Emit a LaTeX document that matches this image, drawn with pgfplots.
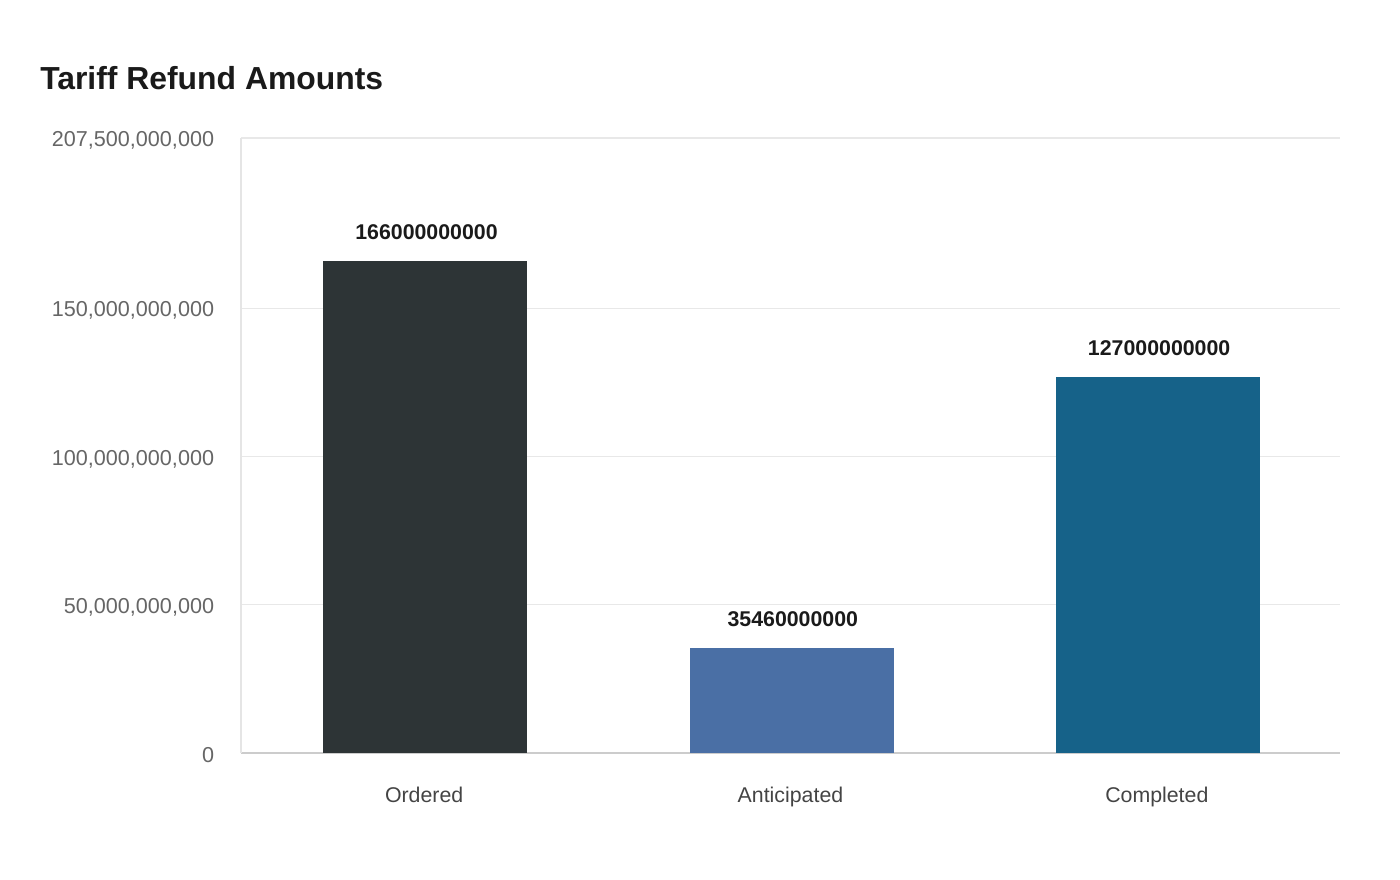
\documentclass[border=0pt]{standalone}
\usepackage{fontspec}
\setmainfont{Liberation Sans}
\usepackage{pgfplots}
\pgfplotsset{compat=1.18}
\definecolor{cOrd}{HTML}{2D3436}
\definecolor{cAnt}{HTML}{4A6FA5}
\definecolor{cCom}{HTML}{166289}
\definecolor{gridc}{HTML}{E8E8E8}
\definecolor{ticklab}{HTML}{666666}
\definecolor{xlab}{HTML}{444444}
\definecolor{titlec}{HTML}{1A1A1A}
\begin{document}
\begin{tikzpicture}
\useasboundingbox (-180.75pt,-95.25pt) rectangle (869.25pt,564.75pt);
\node[anchor=base west, inner sep=0pt, text=titlec, font=\fontsize{23.9}{28}\selectfont\bfseries] at (-150.75pt,497.25pt) {Tariff Refund Amounts};
\begin{axis}[
  scale only axis,
  width=824.25pt, height=461.25pt,
  xmin=-0.5, xmax=2.5,
  ymin=0, ymax=207500000000,
  ybar, bar width=153pt,
  axis x line*=bottom, axis y line*=left,
  x axis line style={draw=black!20, line width=0.9pt, -},
  y axis line style={draw=black!10, line width=0.8pt, -},
  xtick={0,1,2},
  xticklabels={Ordered,Anticipated,Completed},
  ytick={0,50000000000,100000000000,150000000000,207500000000},
  yticklabels={0,{50,000,000,000},{100,000,000,000},{150,000,000,000},{207,500,000,000}},
  scaled y ticks=false,
  major tick length=0pt,
  ymajorgrids,
  grid style={draw=gridc, line width=0.9pt},
  /pgf/number format/assume math mode=true,
  yticklabel style={font=\fontsize{16.2}{19}\selectfont, text=ticklab, inner sep=0pt, xshift=-20pt, yshift=-1.8pt},
  xticklabel style={font=\fontsize{16}{19}\selectfont, text=xlab, inner sep=0pt, anchor=north, yshift=-25.5pt},
  point meta=explicit symbolic,
  nodes near coords,
  every node near coord/.append style={font=\fontsize{16}{19}\selectfont\bfseries, text=titlec, inner sep=0pt, anchor=south, yshift=15.75pt, xshift=1pt},
  clip=false,
]
\addplot[fill=cOrd, draw=none, bar shift=0.75pt] coordinates {(0,166000000000) [166000000000]};
\addplot[fill=cAnt, draw=none, bar shift=0.75pt] coordinates {(1,35460000000) [35460000000]};
\addplot[fill=cCom, draw=none, bar shift=0.75pt] coordinates {(2,127000000000) [127000000000]};
\end{axis}
\end{tikzpicture}
\end{document}
